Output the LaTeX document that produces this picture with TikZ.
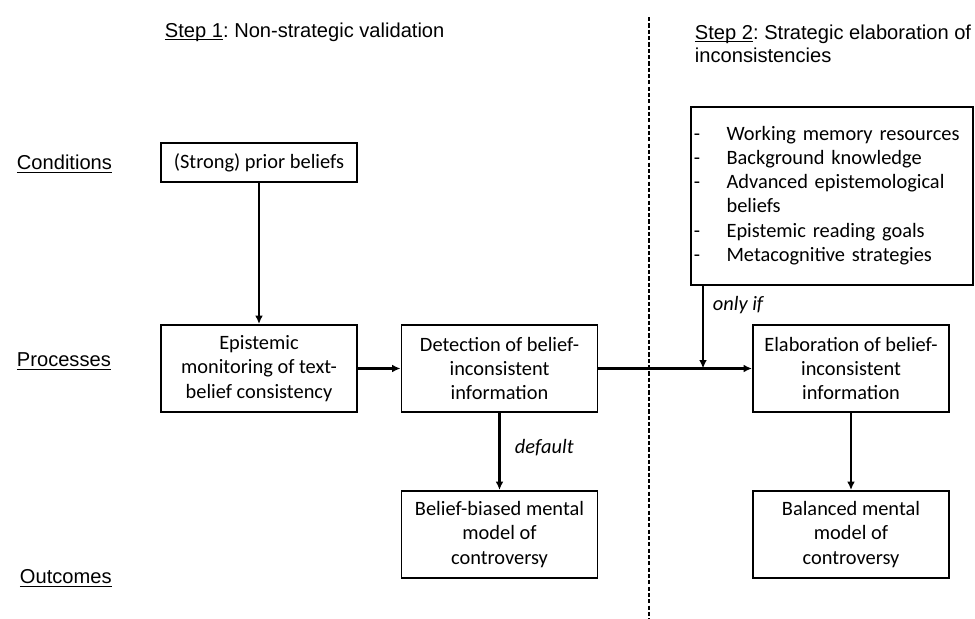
\documentclass[tikz,border=0pt]{standalone}
\usepackage{fontspec}
\setmainfont{Carlito}
\newfontfamily\arialfont{Liberation Sans}
\usetikzlibrary{arrows.meta}

\newcommand{\ulabel}[1]{\setbox0\hbox{#1}\rlap{\rule[-2.3pt]{\wd0}{0.7pt}}\box0}

\tikzset{
  box/.style={draw, line width=1.3pt, align=center, minimum width=4.9cm, minimum height=2.175cm, inner sep=2pt, font=\fontsize{14.5}{17.2}\selectfont},
  arr/.style={line width=1.7pt, -{Latex[length=6pt,width=5.5pt]}},
  heading/.style={anchor=west, font=\arialfont\frenchspacing\fontsize{14.3}{16.3}\selectfont},
  note/.style={anchor=west, font=\itshape\fontsize{14.5}{17.2}\selectfont},
}

\begin{document}
\begin{tikzpicture}[x=0.025cm,y=-0.025cm]
        \useasboundingbox (0,0) rectangle (975,619);

        % step headings and divider
        \node[heading] (step1) at (160,32) {\ulabel{Step 1}: Non-strategic validation};
        \node[heading, align=left] (step2) at (690,43.5) {\ulabel{Step 2}: Strategic elaboration of\\inconsistencies};
        \draw[line width=2pt, dash pattern=on 3pt off 1.5pt] (649,17) -- (649,619);

        % row labels
        \node[heading] (rcond) at (12,164) {\ulabel{Conditions}};
        \node[heading] (rproc) at (12,361) {\ulabel{Processes}};
        \node[heading] (rout) at (15,578) {\ulabel{Outcomes}};

        % boxes
        \node[box, minimum height=0.975cm] (prior) at (259,162.5) {(Strong) prior beliefs};
        \node[box] (monitor) at (259,368.5) {Epistemic\\monitoring of text-\\belief consistency};
        \node[box] (detect) at (499.5,368.5) {Detection of belief-\\inconsistent\\information};
        \node[box] (biased) at (499.5,534.5) {Belief-biased mental\\model of\\controversy};
        \node[box, align=left, inner xsep=0.07cm, text width=6.91cm, minimum height=4.45cm] (cond) at (832,196) {%
          \begin{tabular}{@{}p{0.82cm}@{}l@{}}
            - & Working memory resources\\
            - & Background knowledge\\
            - & Advanced epistemological\\
              & beliefs\\
            - & Epistemic reading goals\\
            - & Metacognitive strategies
          \end{tabular}};
        \node[box] (elab) at (851,368.5) {Elaboration of belief-\\inconsistent\\information};
        \node[box] (balanced) at (851,534.5) {Balanced mental\\model of\\controversy};

        % connectors
        \coordinate (join) at (703,368.5);
        \draw[arr] (prior) -- (monitor);
        \draw[arr] (monitor) -- (detect);
        \draw[arr] (detect) -- (elab);
        \draw[arr] (cond.south -| join) -- (join);
        \draw[arr] (detect) -- (biased);
        \draw[arr] (elab) -- (balanced);

        % conditions on arrows
        \node[note] (onlyif) at (708,305) {only if};
        \node[note] (default) at (510,448) {default};

\end{tikzpicture}
\end{document}
